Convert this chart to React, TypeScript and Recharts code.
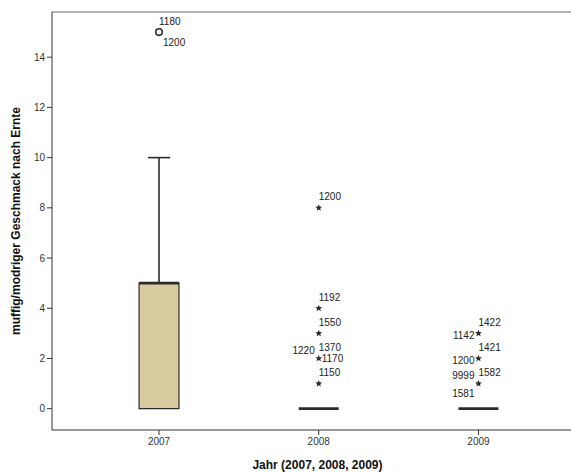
import React from "react";
import {
  ComposedChart,
  XAxis,
  YAxis,
  Scatter,
  ReferenceArea,
  ReferenceLine,
} from "recharts";

// box statistics per year
const years = ["2007", "2008", "2009"];
const q1 = [0, 0, 0];
const median = [5, 0, 0];
const q3 = [5, 0, 0];
const whiskerLow = [0, 0, 0];
const whiskerHigh = [10, 0, 0];

// outliers (o) and extremes (*)
const outlierGroup = [0, 1, 1, 1, 1, 1, 2, 2, 2];
const outlierValue = [15, 8, 4, 3, 2, 1, 3, 2, 1];
const outlierKind = ["o", "*", "*", "*", "*", "*", "*", "*", "*"];
const outlierCases = [
  ["1180", "1200"],
  ["1200"],
  ["1192"],
  ["1550"],
  ["1370", "1170", "1220"],
  ["1150"],
  ["1422", "1142"],
  ["1421", "1200"],
  ["1582", "9999", "1581"],
];
const labelSlots = [
  ["ur", "dr"],
  ["ur"],
  ["ur"],
  ["ur"],
  ["ur", "r", "ul"],
  ["ur"],
  ["ur", "l"],
  ["ur", "l"],
  ["ur", "ul", "dl"],
];

const yTicks = [0, 2, 4, 6, 8, 10, 12, 14];
const Y_MIN = -0.85;
const Y_MAX = 15.8;
const BOX_HALF = 0.125;
const CAP_HALF = 0.07;

const slotOffset: Record<string, { dx: number; dy: number; anchor: string }> = {
  ur: { dx: 0, dy: -11, anchor: "start" },
  r: { dx: 3, dy: 0, anchor: "start" },
  l: { dx: -4, dy: 2, anchor: "end" },
  ul: { dx: -4, dy: -8, anchor: "end" },
  dl: { dx: -4, dy: 10, anchor: "end" },
  dr: { dx: 4, dy: 10, anchor: "start" },
};

const outlierData = outlierValue.map((v, i) => ({
  x: outlierGroup[i],
  y: v,
  kind: outlierKind[i],
  cases: outlierCases[i],
  slots: labelSlots[i],
}));

const ink = "#2b2b2b";

function starPath(cx: number, cy: number, r: number) {
  const pts: string[] = [];
  for (let k = 0; k < 10; k++) {
    const rad = k % 2 === 0 ? r : r * 0.45;
    const a = -Math.PI / 2 + (k * Math.PI) / 5;
    pts.push(`${cx + rad * Math.cos(a)},${cy + rad * Math.sin(a)}`);
  }
  return `M${pts.join("L")}Z`;
}

const OutlierShape = (props: any) => {
  const { cx, cy, payload } = props;
  return (
    <g>
      {payload.kind === "o" ? (
        <circle cx={cx} cy={cy} r={3.3} fill="#fff" stroke={ink} strokeWidth={1.6} />
      ) : (
        <path d={starPath(cx, cy, 3.6)} fill={ink} />
      )}
      {payload.cases.map((c: string, j: number) => {
        const o = slotOffset[payload.slots[j]];
        return (
          <text
            key={j}
            x={cx + o.dx}
            y={cy + o.dy + 3.5}
            textAnchor={o.anchor as any}
            fontSize={10}
            fontFamily="Liberation Sans, Arial, sans-serif"
            fill="#222"
          >
            {c}
          </text>
        );
      })}
    </g>
  );
};

export default function App() {
  return (
    <div
      style={{
        position: "fixed",
        left: 0,
        top: 0,
        background: "#fff",
        width: 571,
        height: 472,
        overflow: "hidden",
      }}
    >
      <ComposedChart
        width={585}
        height={472}
        margin={{ top: 12, right: 0, bottom: 0, left: 0 }}
        style={{ fontFamily: "Liberation Sans, Arial, sans-serif" }}
      >
        <XAxis
          type="number"
          dataKey="x"
          domain={[-0.67, 2.667]}
          ticks={[0, 1, 2]}
          tickFormatter={(v: number) => years[v]}
          allowDataOverflow
          height={42}
          tickSize={5}
          tickMargin={3}
          stroke="#333"
          tick={{ fontSize: 10, fill: "#333" }}
          label={{
            value: "Jahr (2007, 2008, 2009)",
            position: "insideBottom",
            offset: 3,
            dx: -1,
            style: { fontSize: 12, fontWeight: "bold", fill: "#111" },
          }}
        />
        <YAxis
          type="number"
          dataKey="y"
          domain={[Y_MIN, Y_MAX]}
          ticks={yTicks}
          allowDataOverflow
          width={52}
          tickSize={5}
          tickMargin={2}
          stroke="#333"
          tick={{ fontSize: 10, fill: "#333" }}
          label={{
            value: "muffig/modriger Geschmack nach Ernte",
            angle: -90,
            position: "center",
            dx: -10,
            style: { fontSize: 12, fontWeight: "bold", fill: "#111", textAnchor: "middle" },
          }}
        />
        <ReferenceLine y={Y_MAX} stroke="#666" strokeWidth={1.2} />
        {years.map((_, i) => (
          <ReferenceLine
            key={`wl-${i}`}
            segment={[
              { x: i, y: q3[i] },
              { x: i, y: whiskerHigh[i] },
            ]}
            stroke={ink}
            strokeWidth={1.6}
          />
        ))}
        {years.map((_, i) => (
          <ReferenceLine
            key={`wb-${i}`}
            segment={[
              { x: i, y: whiskerLow[i] },
              { x: i, y: q1[i] },
            ]}
            stroke={ink}
            strokeWidth={1.6}
          />
        ))}
        {years.map((_, i) =>
          whiskerHigh[i] > q3[i] ? (
            <ReferenceLine
              key={`ch-${i}`}
              segment={[
                { x: i - CAP_HALF, y: whiskerHigh[i] },
                { x: i + CAP_HALF, y: whiskerHigh[i] },
              ]}
              stroke={ink}
              strokeWidth={1.6}
            />
          ) : null
        )}
        {years.map((_, i) =>
          q3[i] > q1[i] ? (
            <ReferenceArea
              key={`box-${i}`}
              x1={i - BOX_HALF}
              x2={i + BOX_HALF}
              y1={q1[i]}
              y2={q3[i]}
              fill="#d8cb9f"
              fillOpacity={1}
              stroke={ink}
              strokeWidth={1.2}
            />
          ) : null
        )}
        {years.map((_, i) => (
          <ReferenceLine
            key={`med-${i}`}
            segment={[
              { x: i - BOX_HALF, y: median[i] },
              { x: i + BOX_HALF, y: median[i] },
            ]}
            stroke={ink}
            strokeWidth={2.6}
          />
        ))}
        <Scatter
          data={outlierData}
          dataKey="y"
          shape={<OutlierShape />}
          isAnimationActive={false}
        />
      </ComposedChart>
    </div>
  );
}
